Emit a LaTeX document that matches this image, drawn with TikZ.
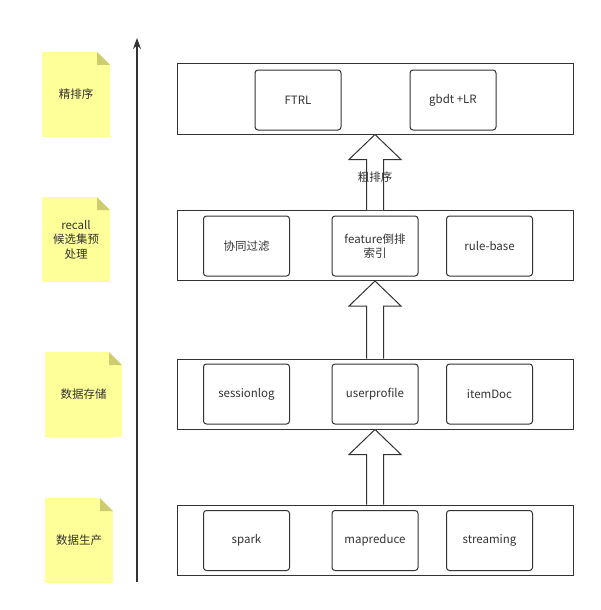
\documentclass[tikz,border=0pt]{standalone}
\usepackage{fontspec}
\setmainfont{Noto Sans CJK SC}
\usetikzlibrary{arrows.meta,calc}
\definecolor{linegray}{RGB}{51,51,51}
\definecolor{noteyellow}{RGB}{255,255,153}
\definecolor{notefold}{RGB}{205,205,112}
\begin{document}
\begin{tikzpicture}[x=1pt,y=-1pt,
  font=\fontsize{11.5pt}{14.5pt}\selectfont, text=linegray,
  layer/.style={rectangle,draw=linegray,line width=1pt,minimum width=396pt,minimum height=70pt},
  item/.style={rectangle,rounded corners=3pt,draw=linegray,line width=1pt,fill=white,minimum width=86pt,minimum height=60pt,align=center},
  note/.style={rectangle,fill=noteyellow,minimum height=85pt,inner sep=0pt,align=center,
    path picture={
      \fill[white] ([xshift=-13pt]path picture bounding box.north east) -- (path picture bounding box.north east) -- ([yshift=-13pt]path picture bounding box.north east) -- cycle;
      \fill[notefold] ([xshift=-13pt]path picture bounding box.north east) -- ([xshift=-13pt,yshift=-13pt]path picture bounding box.north east) -- ([yshift=-13pt]path picture bounding box.north east) -- cycle;}},
  blockarrow/.style={draw=linegray,line width=1pt,fill=white,line join=miter}]
\useasboundingbox[fill=white] (0,0) rectangle (600,610);

\node[note,minimum width=68pt] (n1) at (76,94.5){精排序};
\node[note,minimum width=68pt] (n2) at (76,239.5){recall\\候选集预\\处理};
\node[note,minimum width=77pt] (n3) at (83.5,394.5){数据存储};
\node[note,minimum width=68pt] (n4) at (79,540.5){数据生产};

\coordinate (axisbot) at (137,582);
\coordinate (axistop) at (137,38);
\draw[-{Stealth[length=11pt,width=8pt]},draw=linegray,line width=1.2pt] (axisbot) -- (axistop);

\node[layer] (L1) at (375,99){};
\node[layer] (L2) at (375,245.5){};
\node[layer] (L3) at (375,394){};
\node[layer] (L4) at (375,540){};

\node[item] (ftrl) at (298,100){FTRL};
\node[item] (gbdt) at (453,100){gbdt +LR};
%%%%%%%%
\node[item] (cf) at (246.5,246){协同过滤};
\node[item] (feat) at (375,246){feature倒排\\索引};
\node[item] (rule) at (489.5,246){rule-base};
%%%%%%%%
\node[item] (slog) at (246.5,394){sessionlog};
\node[item] (uprof) at (375,394){userprofile};
\node[item] (idoc) at (489.5,394){itemDoc};
%%%%%%%%
\node[item] (spark) at (246.5,540.5){spark};
\node[item] (mapr) at (375,540.5){mapreduce};
\node[item] (strm) at (489.5,540.5){streaming};

%%%%%%%%%%%%%%%%%%%%%%%%%%%%%%%%%%%
\draw[blockarrow] ($(L2.north)+(-8.5,0)$) -- ($(L1.south)+(-8.5,25)$) -- ($(L1.south)+(-26,25)$) -- (L1.south) -- ($(L1.south)+(26,25)$) -- ($(L1.south)+(8.5,25)$) -- ($(L2.north)+(8.5,0)$);
\draw[blockarrow] ($(L3.north)+(-8.5,0)$) -- ($(L2.south)+(-8.5,25)$) -- ($(L2.south)+(-26,25)$) -- (L2.south) -- ($(L2.south)+(26,25)$) -- ($(L2.south)+(8.5,25)$) -- ($(L3.north)+(8.5,0)$);
\draw[blockarrow] ($(L4.north)+(-8.5,0)$) -- ($(L3.south)+(-8.5,25)$) -- ($(L3.south)+(-26,25)$) -- (L3.south) -- ($(L3.south)+(26,25)$) -- ($(L3.south)+(8.5,25)$) -- ($(L4.north)+(8.5,0)$);
\node (coarse) at (375,177){粗排序};

\end{tikzpicture}
\end{document}
